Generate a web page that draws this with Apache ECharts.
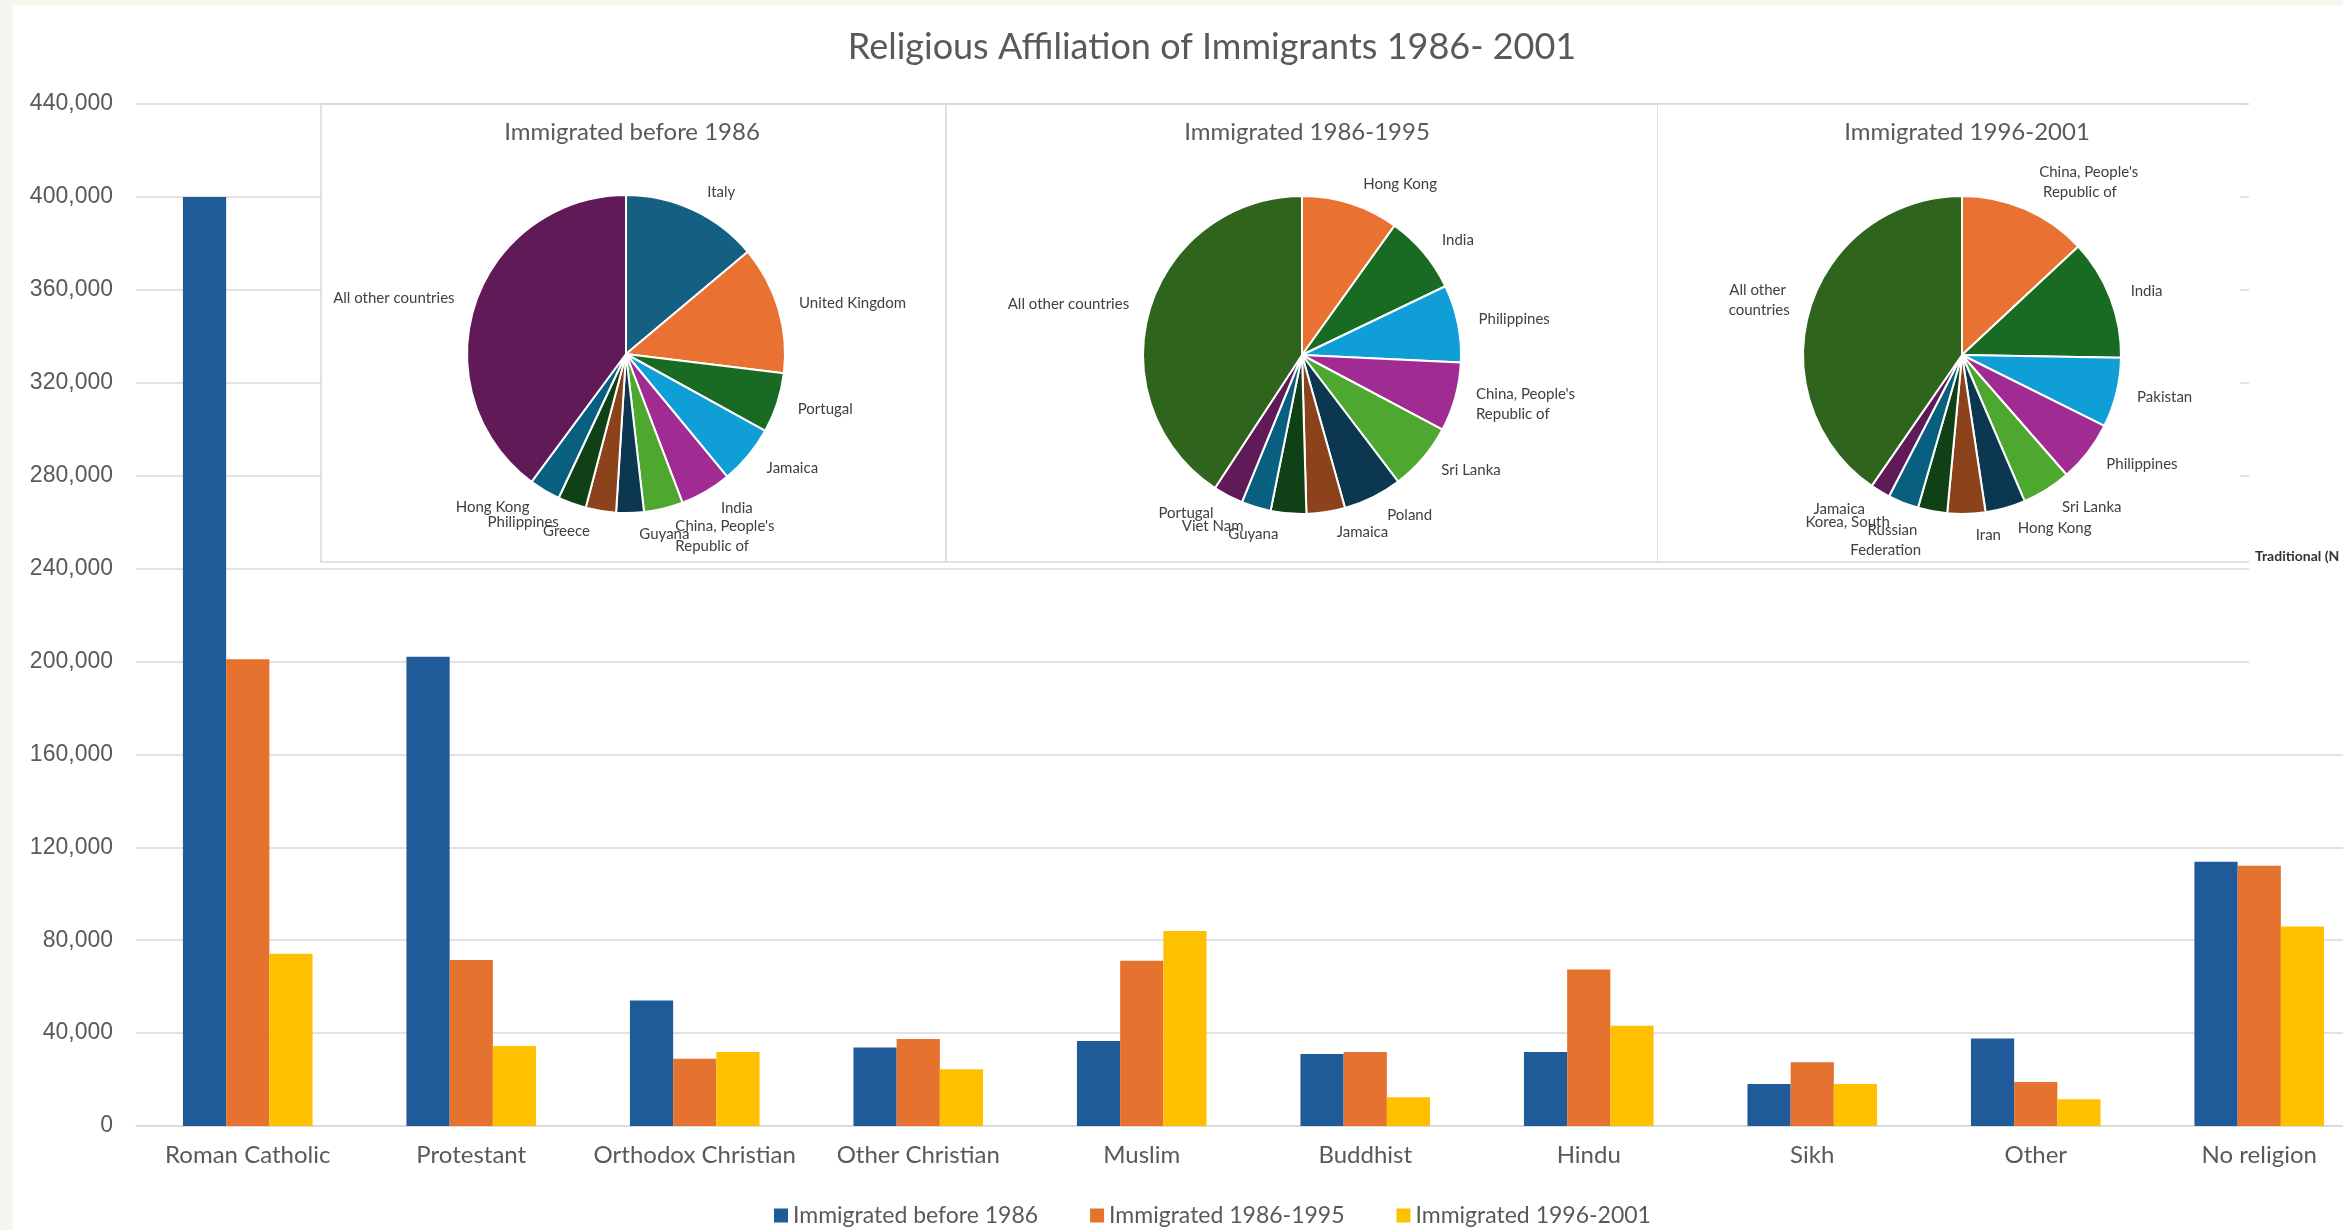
<!DOCTYPE html>
<html>
<head>
<meta charset="utf-8">
<title>Religious Affiliation of Immigrants 1986- 2001</title>
<script src="https://cdn.jsdelivr.net/npm/echarts@6/dist/echarts.min.js"></script>
<style>
    html, body { margin: 0; padding: 0; background: #f6f6ef; overflow: hidden; }
    #paper { position: absolute; left: 13px; top: 5px; width: 2330px; height: 1225px; background: #ffffff; }
    /* wider than the window: the last category is cut off at the right edge */
    #main { position: absolute; left: 0; top: 0; width: 2420px; height: 1230px; }
</style>
</head>
<body>
<div id="paper"></div>
<div id="main"></div>
<script>
// bar chart data
var religions = ['Roman Catholic', 'Protestant', 'Orthodox Christian', 'Other Christian', 'Muslim',
    'Buddhist', 'Hindu', 'Sikh', 'Other', 'No religion'];
var seriesNames = ['Immigrated before 1986', 'Immigrated 1986-1995', 'Immigrated 1996-2001'];
var before1986 = [400000, 202000, 54000, 33800, 36600, 31000, 31900, 18100, 37700, 113800];
var from1986to1995 = [201000, 71500, 29000, 37500, 71100, 31900, 67400, 27400, 18900, 112000];
var from1996to2001 = [74200, 34400, 31900, 24400, 84000, 12400, 43200, 18100, 11500, 85900];
var yTicks = [0, 40000, 80000, 120000, 160000, 200000, 240000, 280000, 320000, 360000, 400000, 440000];

// pie data (place of birth)
var pie1Names = ['Italy', 'United Kingdom', 'Portugal', 'Jamaica', 'India', "China, People's Republic of",
    'Guyana', 'Greece', 'Philippines', 'Hong Kong', 'All other countries'];
var pie1Values = [133300, 125300, 58400, 57600, 49900, 38100, 26900, 29600, 27700, 30400, 382700];
var pie2Names = ['Hong Kong', 'India', 'Philippines', "China, People's Republic of", 'Sri Lanka', 'Poland',
    'Jamaica', 'Guyana', 'Viet Nam', 'Portugal', 'All other countries'];
var pie2Values = [66000, 53400, 52500, 46900, 46000, 39900, 26200, 24100, 20000, 20400, 272300];
var pie3Names = ["China, People's Republic of", 'India', 'Pakistan', 'Philippines', 'Sri Lanka', 'Hong Kong',
    'Iran', 'Russian Federation', 'Korea, South', 'Jamaica', 'All other countries'];
var pie3Values = [54800, 51300, 29700, 26100, 20900, 17100, 16200, 12500, 13100, 8500, 169500];

var barColors = ['#1f5b98', '#e5722e', '#ffc000'];
// office palette, then the darker shades
var pie1Colors = ['#156082', '#e97132', '#196b24', '#0f9ed5', '#a02b93', '#4ea72e',
    '#0c3750', '#8c421a', '#0f4016', '#095f80', '#601a58'];
var pie23Colors = ['#e97132', '#196b24', '#0f9ed5', '#a02b93', '#4ea72e',
    '#0c3750', '#8c421a', '#0f4016', '#095f80', '#601a58', '#2f641c'];

var textGray = '#595959';
var gridGray = '#d9d9d9';
var pieCenters = [[626, 354], [1302, 355], [1962, 355]];

function toPieData(names, values, colors) {
    var list = [];
    for (var i = 0; i < names.length; i++) {
        list.push({ name: names[i], value: values[i], itemStyle: { color: colors[i] } });
    }
    return list;
}

// push the labels a bit further out above and below the pie, like excel does
function pieLabelLayout(params) {
    var c = pieCenters[params.seriesIndex - 3];
    var r = params.labelRect;
    var dx = r.x + r.width / 2 - c[0];
    var dy = r.y + r.height / 2 - c[1];
    var dist = Math.sqrt(dx * dx + dy * dy) || 1;
    return { dy: dy / dist * (r.height / 2), hideOverlap: false };
}

function pieSeries(name, center, data, labelWidth) {
    return {
        name: name,
        type: 'pie',
        z: 4,
        center: center,
        radius: 159,
        startAngle: 90,
        clockwise: true,
        avoidLabelOverlap: false,
        animation: false,
        itemStyle: { borderColor: '#ffffff', borderWidth: 2 },
        label: {
            show: true,
            position: 'outside',
            fontFamily: 'Lato',
            fontSize: 15,
            color: '#404040',
            width: labelWidth,
            overflow: 'break',
            lineHeight: 20,
            align: 'center'
        },
        labelLine: { show: false, length: 12, length2: 4 },
        labelLayout: pieLabelLayout,
        emphasis: { disabled: true },
        data: data
    };
}

var myChart = echarts.init(document.getElementById('main'));

var option = {
    animation: false,
    title: [
        { text: 'Religious Affiliation of Immigrants 1986- 2001', left: 1207, top: 24, textAlign: 'center',
            textStyle: { fontFamily: 'Lato', fontSize: 36, fontWeight: 'normal', color: textGray } },
        { text: seriesNames[0], left: 627, top: 115, textAlign: 'center', z: 5,
            textStyle: { fontFamily: 'Lato', fontSize: 24, fontWeight: 'normal', color: textGray } },
        { text: seriesNames[1], left: 1302, top: 115, textAlign: 'center', z: 5,
            textStyle: { fontFamily: 'Lato', fontSize: 24, fontWeight: 'normal', color: textGray } },
        { text: seriesNames[2], left: 1962, top: 115, textAlign: 'center', z: 5,
            textStyle: { fontFamily: 'Lato', fontSize: 24, fontWeight: 'normal', color: textGray } }
    ],
    legend: {
        left: 769,
        top: 1199,
        icon: 'rect',
        itemWidth: 14,
        itemHeight: 14,
        itemGap: 52,
        textStyle: { fontFamily: 'Lato', fontSize: 23, color: textGray },
        data: seriesNames
    },
    grid: { left: 136, top: 104, width: 2235, height: 1022 },
    xAxis: {
        type: 'category',
        data: religions,
        axisTick: { show: false },
        axisLine: { lineStyle: { color: gridGray, width: 1.5 } },
        axisLabel: { interval: 0, fontFamily: 'Lato', fontSize: 24, color: textGray, margin: 17 }
    },
    yAxis: {
        type: 'value',
        min: yTicks[0],
        max: yTicks[yTicks.length - 1],
        interval: yTicks[1] - yTicks[0],
        axisLine: { show: false },
        axisTick: { show: false },
        splitLine: { lineStyle: { color: gridGray, width: 1.5 } },
        axisLabel: {
            fontFamily: 'Liberation Sans', fontSize: 23, color: textGray, margin: 23,
            formatter: function (v) { return v.toLocaleString('en-US'); }
        }
    },
    graphic: [
        { type: 'rect', z: 1, shape: { x: 321, y: 104, width: 625, height: 458 },
            style: { fill: '#ffffff', stroke: gridGray, lineWidth: 1.5 } },
        { type: 'rect', z: 1, shape: { x: 946, y: 104, width: 712, height: 458 },
            style: { fill: '#ffffff', stroke: gridGray, lineWidth: 1.5 } },
        { type: 'rect', z: 1, shape: { x: 1658, y: 104, width: 582, height: 458 },
            style: { fill: '#ffffff' } },
        { type: 'line', z: 1, shape: { x1: 1658, y1: 562, x2: 2249, y2: 562 },
            style: { stroke: gridGray, lineWidth: 1.5 } },
        { type: 'line', z: 1, shape: { x1: 321, y1: 104, x2: 2249, y2: 104 },
            style: { stroke: gridGray, lineWidth: 1.5 } },
        // the next chart, cut off at the right edge
        { type: 'rect', z: 1, shape: { x: 2249, y: 96, width: 171, height: 610 },
            style: { fill: '#ffffff' } },
        { type: 'text', z: 5, x: 2255, y: 556,
            style: { text: 'Traditional (N', fontFamily: 'Lato', fontSize: 14, fontWeight: 'bold',
                fill: '#333333', verticalAlign: 'middle' } }
    ],
    series: [
        { name: seriesNames[0], type: 'bar', data: before1986, barGap: '0%', barCategoryGap: '42%',
            itemStyle: { color: barColors[0] }, emphasis: { disabled: true } },
        { name: seriesNames[1], type: 'bar', data: from1986to1995, barGap: '0%', barCategoryGap: '42%',
            itemStyle: { color: barColors[1] }, emphasis: { disabled: true } },
        { name: seriesNames[2], type: 'bar', data: from1996to2001, barGap: '0%', barCategoryGap: '42%',
            itemStyle: { color: barColors[2] }, emphasis: { disabled: true } },
        pieSeries('pie1', pieCenters[0], toPieData(pie1Names, pie1Values, pie1Colors), 140),
        pieSeries('pie2', pieCenters[1], toPieData(pie2Names, pie2Values, pie23Colors), 140),
        pieSeries('pie3', pieCenters[2], toPieData(pie3Names, pie3Values, pie23Colors), 100)
    ]
};

myChart.setOption(option);
</script>
</body>
</html>
